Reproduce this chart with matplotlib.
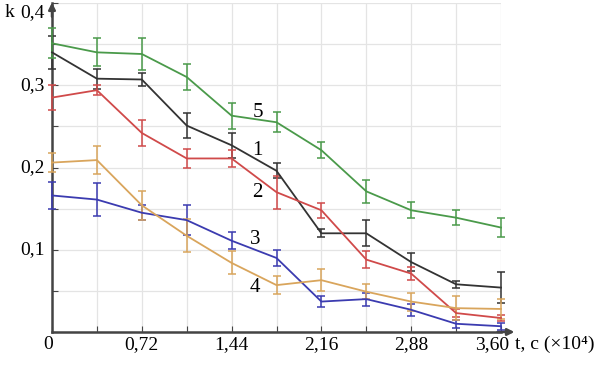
import matplotlib.pyplot as plt
import numpy as np

plt.rcParams['font.family'] = ['Liberation Serif', 'DejaVu Serif']

# time points (x 10^4 s)
t = [0, 0.36, 0.72, 1.08, 1.44, 1.80, 2.16, 2.52, 2.88, 3.24, 3.60]

k1 = [0.340, 0.308, 0.307, 0.251, 0.227, 0.196, 0.120, 0.120, 0.085, 0.058, 0.054]
e1 = [0.020, 0.012, 0.008, 0.015, 0.015, 0.009, 0.005, 0.016, 0.011, 0.004, 0.019]
k2 = [0.285, 0.294, 0.242, 0.211, 0.211, 0.170, 0.148, 0.088, 0.071, 0.023, 0.017]
e2 = [0.015, 0.006, 0.016, 0.011, 0.010, 0.020, 0.009, 0.010, 0.008, 0.005, 0.004]
k3 = [0.166, 0.161, 0.145, 0.136, 0.111, 0.090, 0.037, 0.040, 0.027, 0.010, 0.007]
e3 = [0.016, 0.020, 0.009, 0.018, 0.010, 0.010, 0.007, 0.008, 0.007, 0.005, 0.004]
k4 = [0.206, 0.209, 0.154, 0.117, 0.084, 0.057, 0.063, 0.049, 0.037, 0.029, 0.028]
e4 = [0.012, 0.017, 0.018, 0.020, 0.014, 0.011, 0.013, 0.009, 0.011, 0.015, 0.012]
k5 = [0.351, 0.340, 0.338, 0.310, 0.263, 0.255, 0.221, 0.171, 0.148, 0.139, 0.127]
e5 = [0.018, 0.017, 0.020, 0.016, 0.016, 0.012, 0.010, 0.014, 0.010, 0.009, 0.012]

series = [
    (k1, e1, '#333333', '1', (1.65, 0.221)),
    (k2, e2, '#d04a4a', '2', (1.65, 0.170)),
    (k3, e3, '#3b3bb0', '3', (1.63, 0.113)),
    (k4, e4, '#d9a55c', '4', (1.63, 0.054)),
    (k5, e5, '#4a9a4a', '5', (1.65, 0.267)),
]

fig = plt.figure(figsize=(6.1, 3.66), dpi=100)
ax = fig.add_axes([52 / 610, 1 - 332 / 366, 449 / 610, 329 / 366])

for k, e, c, lab, pos in series:
    ax.errorbar(t, k, yerr=e, color=c, lw=1.3, elinewidth=1.1, capsize=3,
                capthick=1.1, clip_on=False, zorder=3)
    ax.text(pos[0], pos[1], lab, fontsize=15, ha='center', va='center')

ax.set_xlim(0, 3.6)
ax.set_ylim(0, 0.4)
ax.set_xticks(t)
ax.set_yticks(np.arange(0, 0.401, 0.05))
ax.grid(True, color='#e4e4e4', lw=0.9)
ax.set_axisbelow(True)
ax.tick_params(direction='in', length=4, color='#444444', labelleft=False,
               labelbottom=False)

for s in ['top', 'right']:
    ax.spines[s].set_visible(False)
for s in ['left', 'bottom']:
    ax.spines[s].set_color('#444444')
    ax.spines[s].set_linewidth(1.8)

# axis arrows
ax.annotate('', xy=(3.73, 0), xytext=(3.55, 0), xycoords='data',
            arrowprops=dict(arrowstyle='-|>', color='#444444', lw=1.8,
                            mutation_scale=10), annotation_clip=False)
ax.annotate('', xy=(0, 0.404), xytext=(0, 0.38), xycoords='data',
            arrowprops=dict(arrowstyle='-|>', color='#444444', lw=1.8,
                            mutation_scale=10), annotation_clip=False)

# tick labels
xlabels = ['0', '0,72', '1,44', '2,16', '2,88', '3,60']
xpos = [-0.03, 0.72, 1.44, 2.16, 2.88, 3.53]
for x, lab in zip(xpos, xlabels):
    ax.text(x, -0.005, lab, fontsize=14, ha='center', va='top')
ylabels = ['0,1', '0,2', '0,3']
for i, lab in enumerate(ylabels):
    ax.text(-0.06, (i + 1) * 0.1, lab, fontsize=14, ha='right', va='center')
ax.text(-0.06, 0.388, '0,4', fontsize=14, ha='right', va='center')
ax.text(-0.30, 0.388, 'k', fontsize=14, ha='right', va='center')
ax.text(3.715, -0.005, 't, c (×10⁴)', fontsize=14, ha='left', va='top')

fig.savefig('out.png', dpi=100)
